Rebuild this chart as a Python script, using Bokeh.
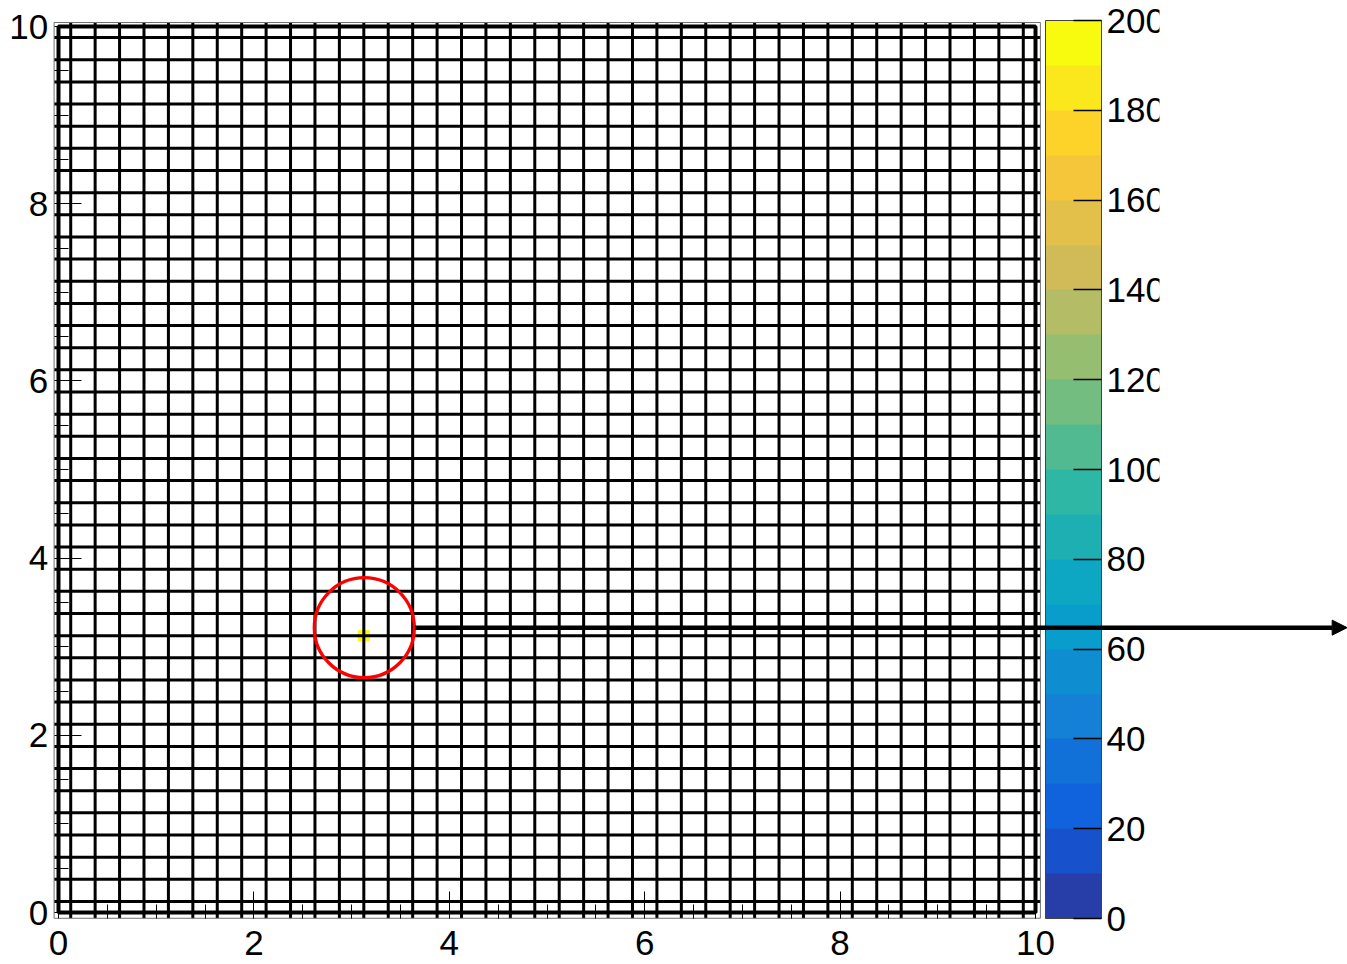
from bokeh.plotting import figure
from bokeh.models import (ColumnDataSource, LinearColorMapper, ColorBar, FixedTicker,
                          Arrow, NormalHead)
from bokeh.transform import transform
from bokeh.embed import file_html
from bokeh.resources import INLINE
import numpy as np

# ---------------- data ----------------
axis_low, axis_high = 0.0, 10.0
frame_x = (-0.045, 10.05)                 # histogram frame (ROOT pad frame)
frame_y = (-0.065, 10.045)
grid_lines = [0.125 + 0.25 * i for i in range(40)]   # box borders, boxes centred on 0, 0.25, ..., 10
hot_bin_x = [3.125]
hot_bin_y = [3.125]
hot_bin_value = [200.0]
hot_bin_size = 0.125
circle_x = [3.13]
circle_y = [3.215]
arrow_x_start, arrow_x_end, arrow_y = 3.649, 13.19, 3.215
major_ticks = [0, 2, 4, 6, 8, 10]
minor_ticks = [0.5, 1, 1.5, 2.5, 3, 3.5, 4.5, 5, 5.5, 6.5, 7, 7.5, 8.5, 9, 9.5]
z_low, z_high = 0, 200
z_ticks = [0, 20, 40, 60, 80, 100, 120, 140, 160, 180, 200]
n_contours = 20

# ---------------- palette (ROOT kBird, 20 contours) ----------------
stops = [0.0, 0.125, 0.25, 0.375, 0.5, 0.625, 0.75, 0.875, 1.0]
red = [0.2082, 0.0592, 0.0780, 0.0232, 0.1802, 0.5301, 0.8186, 0.9956, 0.9764]
green = [0.1664, 0.3599, 0.5041, 0.6419, 0.7178, 0.7492, 0.7328, 0.7862, 0.9832]
blue = [0.5293, 0.8684, 0.8385, 0.7914, 0.6425, 0.4662, 0.3499, 0.1968, 0.0539]
palette = []
for k in range(n_contours):
    idx = int((k + 0.99) * 255 / n_contours)
    t = idx / 254.0
    r, g, b = (int(round(255 * np.interp(t, stops, c))) for c in (red, green, blue))
    palette.append("#%02x%02x%02x" % (r, g, b))

mapper = LinearColorMapper(palette=palette, low=z_low, high=z_high)

FONT = "Liberation Sans"
FS = "35px"
W, H = 1347, 964

# the whole canvas is the plotting frame; 0..10 sits at px 58..1035 (x) and 912..26 (y)
p = figure(width=W, height=H, x_range=(-58 / 97.7, (W - 58) / 97.7),
           y_range=(-(H - 912) / 88.6, 912 / 88.6),
           output_backend="svg", toolbar_location=None,
           min_border_left=0, min_border_right=0, min_border_top=0, min_border_bottom=0)
p.grid.visible = False
p.background_fill_color = "white"
p.border_fill_color = "white"
p.outline_line_color = None

# histogram bin
src = ColumnDataSource(dict(x=hot_bin_x, y=hot_bin_y, z=hot_bin_value))
p.rect(x="x", y="y", width=hot_bin_size, height=hot_bin_size, source=src,
       fill_color=transform("z", mapper), line_color=None)

# box grid (limited to the histogram frame)
n = len(grid_lines)
p.segment(x0=grid_lines, x1=grid_lines, y0=[frame_y[0]] * n, y1=[frame_y[1]] * n,
          line_color="black", line_width=3)
p.segment(x0=[frame_x[0]] * n, x1=[frame_x[1]] * n, y0=grid_lines, y1=grid_lines,
          line_color="black", line_width=3)
p.quad(left=[axis_low], right=[axis_high], bottom=[axis_low], top=[axis_high],
       fill_color=None, line_color="black", line_width=4)
# frame outline
p.quad(left=[frame_x[0]], right=[frame_x[1]], bottom=[frame_y[0]], top=[frame_y[1]],
       fill_color=None, line_color="#707070", line_width=1)

# circle marker
p.scatter(x=circle_x, y=circle_y, marker="circle", size=100, fill_color=None,
          line_color="red", line_width=3.3)

# axes fixed on the frame edges
p.xaxis.fixed_location = frame_y[0]
p.yaxis.fixed_location = frame_x[0]
for ax in (p.xaxis[0], p.yaxis[0]):
    ax.ticker = FixedTicker(ticks=major_ticks, minor_ticks=minor_ticks)
    ax.major_tick_in = 27
    ax.major_tick_out = 0
    ax.minor_tick_in = 14
    ax.minor_tick_out = 0
    ax.major_tick_line_color = "black"
    ax.minor_tick_line_color = "black"
    ax.axis_line_color = None
    ax.major_label_text_font = FONT
    ax.major_label_text_font_size = FS
    ax.major_label_text_color = "black"
p.xaxis.major_label_standoff = 13
p.yaxis.major_label_standoff = 6

# colour bar
cbar = ColorBar(color_mapper=mapper, ticker=FixedTicker(ticks=z_ticks),
                width=56, height=898, location=(1045, H - 918), padding=0, margin=0,
                major_tick_in=28, major_tick_out=0, major_tick_line_color="black",
                major_tick_line_width=1.5, minor_tick_line_color=None,
                bar_line_color="#444444", bar_line_width=1,
                border_line_color=None, background_fill_color=None,
                label_standoff=5, major_label_text_font=FONT,
                major_label_text_font_size=FS, major_label_text_color="black")
p.add_layout(cbar)

# clip the colour-bar labels as in the original pad
clip_left = (1159 - 58) / 97.7
p.quad(left=[clip_left], right=[p.x_range.end + 1], bottom=[p.y_range.start - 1],
       top=[p.y_range.end + 1], fill_color="white", line_color=None, level="overlay")

arrow = Arrow(end=NormalHead(size=15, fill_color="black", line_color="black"),
              x_start=arrow_x_start, y_start=arrow_y, x_end=arrow_x_end, y_end=arrow_y,
              line_color="black", line_width=4.5, level="overlay")
p.add_layout(arrow)

open("out.html", "w").write(file_html(p, INLINE))
